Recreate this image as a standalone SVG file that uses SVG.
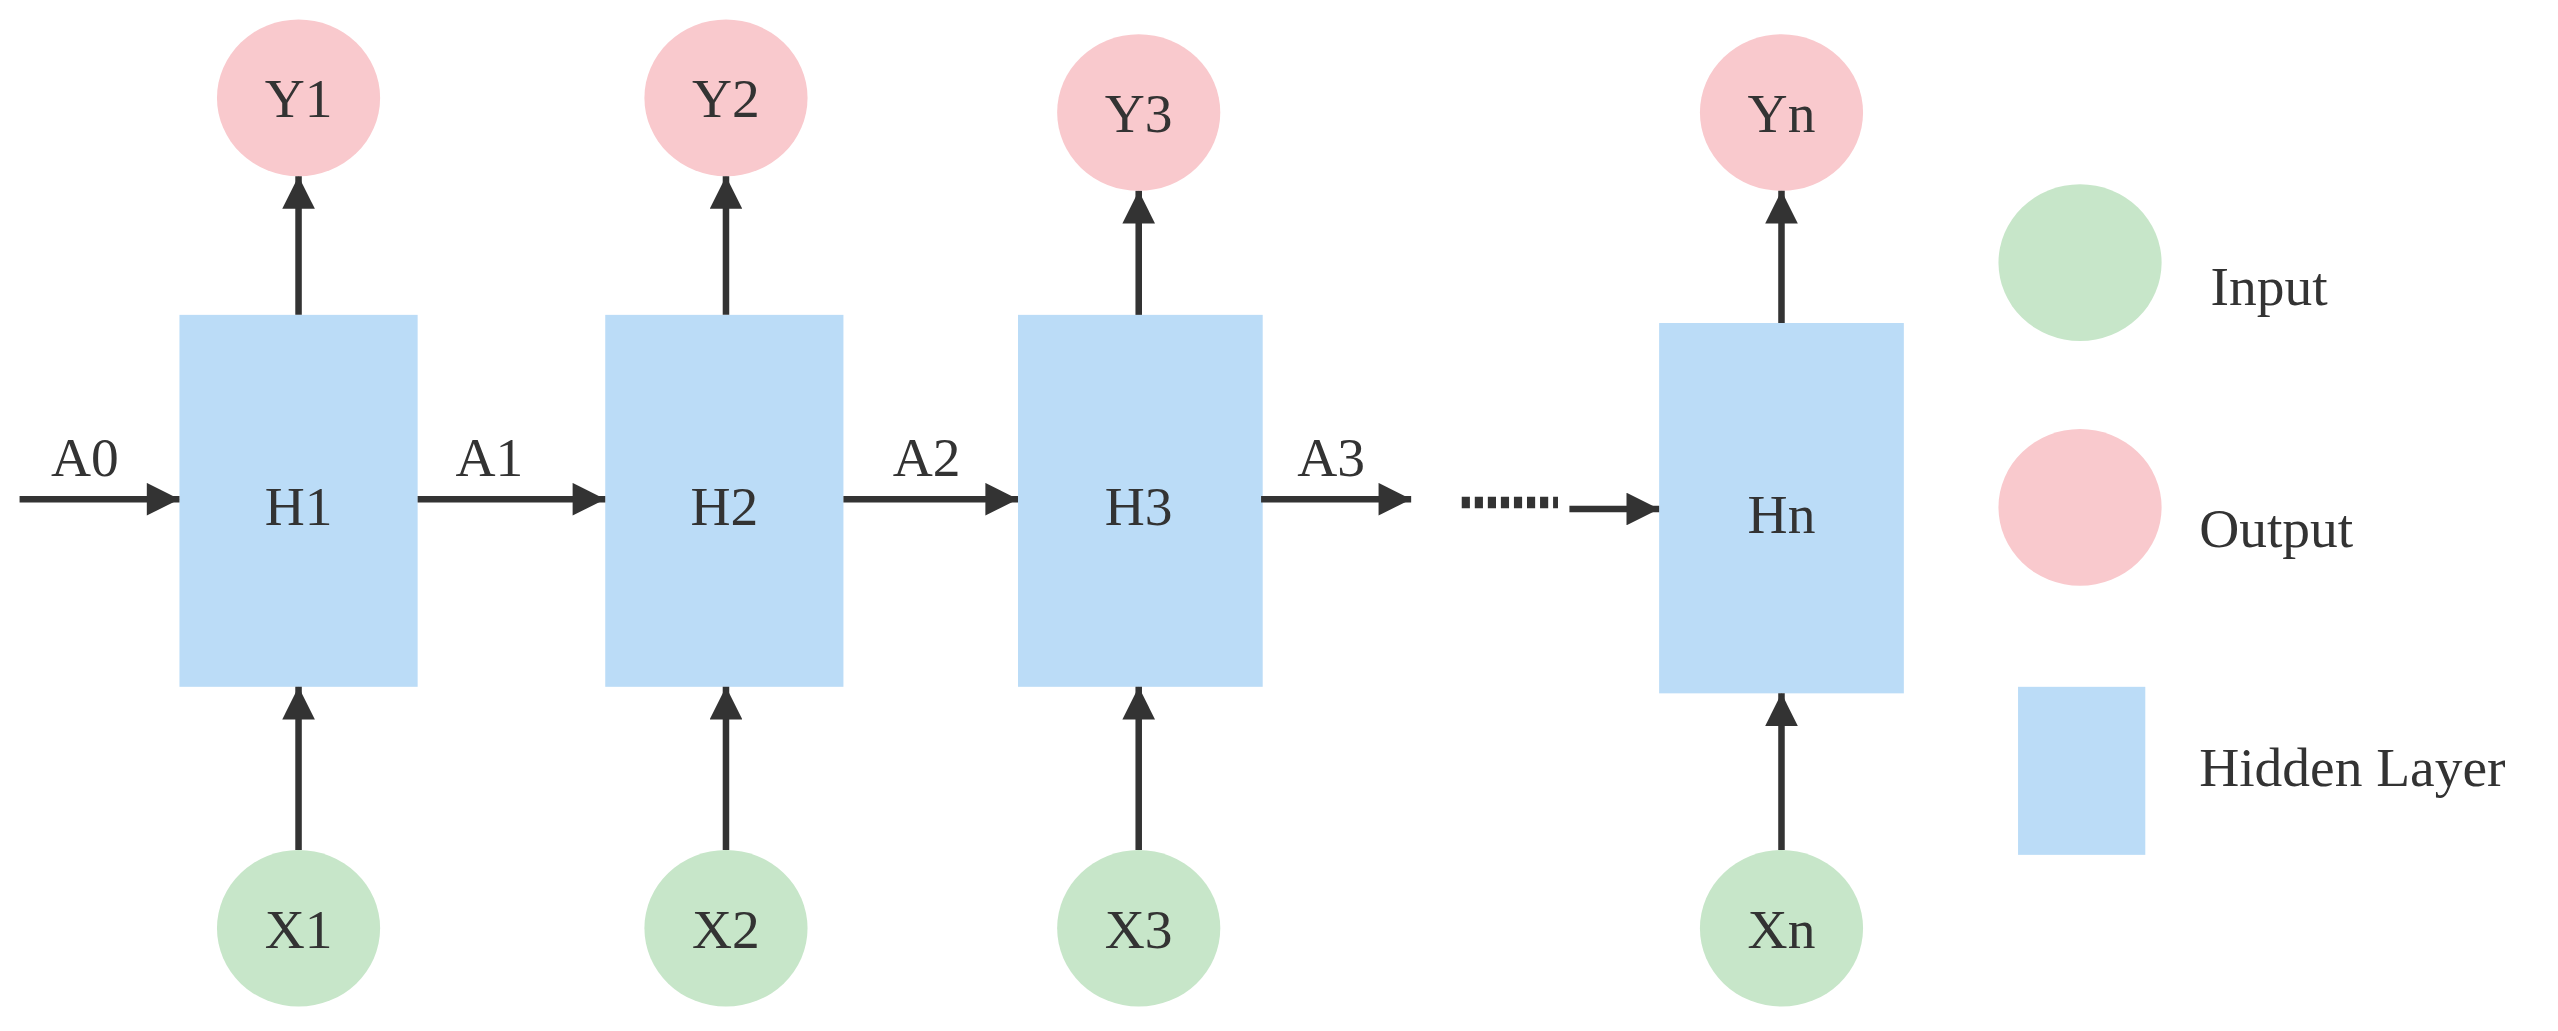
<svg xmlns="http://www.w3.org/2000/svg" width="2558" height="1031" viewBox="0 0 2558 1031">
<style>
.o{fill:#f9c9cd}.i{fill:#c7e6c9}.h{fill:#bbdcf7}
text{font-family:"Liberation Serif",serif;font-size:34px;fill:#333}
.c line{stroke:#333;stroke-width:4;marker-end:url(#a)}
.m{text-anchor:middle}
</style>
<defs><marker id="a" viewBox="0 0 10 10" refX="10" refY="5" markerWidth="6" markerHeight="5" orient="auto" markerUnits="strokeWidth"><path d="M0,0L10,5L0,10z" fill="#333"/></marker></defs>
<rect width="2558" height="1031" fill="#fff"/>
<g transform="scale(1.6314)">
<g id="Y1"><ellipse class="o" cx="183" cy="60" rx="50" ry="48"/><text class="m" x="183" y="72">Y1</text></g>
<g id="Y2"><ellipse class="o" cx="445" cy="60" rx="50" ry="48"/><text class="m" x="445" y="72">Y2</text></g>
<g id="Y3"><ellipse class="o" cx="698" cy="69" rx="50" ry="48"/><text class="m" x="698" y="81">Y3</text></g>
<g id="Yn"><ellipse class="o" cx="1092" cy="69" rx="50" ry="48"/><text class="m" x="1092" y="81">Yn</text></g>
<g id="H1"><rect class="h" x="110" y="193" width="146" height="228"/><text class="m" x="183" y="322">H1</text></g>
<g id="H2"><rect class="h" x="371" y="193" width="146" height="228"/><text class="m" x="444" y="322">H2</text></g>
<g id="H3"><rect class="h" x="624" y="193" width="150" height="228"/><text class="m" x="698" y="322">H3</text></g>
<g id="Hn"><rect class="h" x="1017" y="198" width="150" height="227"/><text class="m" x="1092" y="327">Hn</text></g>
<g id="X1"><ellipse class="i" cx="183" cy="569" rx="50" ry="48"/><text class="m" x="183" y="581">X1</text></g>
<g id="X2"><ellipse class="i" cx="445" cy="569" rx="50" ry="48"/><text class="m" x="445" y="581">X2</text></g>
<g id="X3"><ellipse class="i" cx="698" cy="569" rx="50" ry="48"/><text class="m" x="698" y="581">X3</text></g>
<g id="Xn"><ellipse class="i" cx="1092" cy="569" rx="50" ry="48"/><text class="m" x="1092" y="581">Xn</text></g>
<g id="legend">
<ellipse class="i" cx="1275" cy="161" rx="50" ry="48"/><text x="1355" y="187">Input</text>
<ellipse class="o" cx="1275" cy="311" rx="50" ry="48"/><text x="1348" y="335">Output</text>
<rect class="h" x="1237" y="421" width="78" height="103"/><text x="1348" y="482">Hidden Layer</text>
</g>
<g class="c" id="connectors">
<line x1="183" y1="193" x2="183" y2="108"/><line x1="445" y1="193" x2="445" y2="108"/><line x1="698" y1="193" x2="698" y2="117"/><line x1="1092" y1="198" x2="1092" y2="117"/>
<line x1="183" y1="521" x2="183" y2="421"/><line x1="445" y1="521" x2="445" y2="421"/><line x1="698" y1="521" x2="698" y2="421"/><line x1="1092" y1="521" x2="1092" y2="425"/>
<line x1="12" y1="306" x2="110" y2="306"/><line x1="256" y1="306" x2="371" y2="306"/><line x1="517" y1="306" x2="624" y2="306"/><line x1="773" y1="306" x2="865" y2="306"/><line x1="962" y1="312" x2="1017" y2="312"/>
<text class="m" x="52" y="292">A0</text><text class="m" x="300" y="292">A1</text><text class="m" x="568" y="292">A2</text><text class="m" x="816" y="292">A3</text>
<path d="M896,308H955" stroke="#333" stroke-width="7" stroke-dasharray="5 3"/>
</g>
</g>
</svg>
